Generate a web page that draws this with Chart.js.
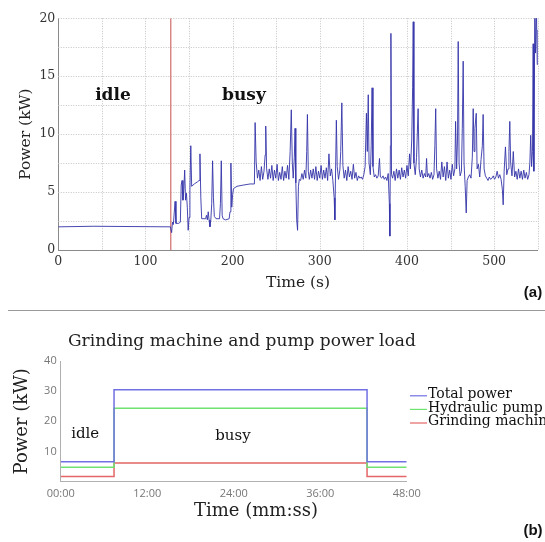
<!DOCTYPE html>
<html><head><meta charset="utf-8">
<script src="https://cdn.jsdelivr.net/npm/chart.js@4.4.1/dist/chart.umd.min.js"></script>
<style>
html,body{margin:0;padding:0;background:#fff;width:545px;height:542px;overflow:hidden;}
#ca{position:absolute;left:0;top:0;}
#cb{position:absolute;left:0;top:312px;}
#sep{position:absolute;left:8px;top:310px;width:537px;height:0;border-top:1px solid #9a9a9a;}
</style></head><body>
<canvas id="ca" width="545" height="305"></canvas>
<div id="sep"></div>
<canvas id="cb" width="545" height="230"></canvas>
<script>
// ---------- Chart (a): measured power vs time ----------
const timeS = [
 0, 40, 128.5, 129.2, 130, 131, 132, 133, 134, 135,
 138, 140, 141, 142, 143, 144, 145, 146, 147, 148,
 149, 150, 151, 152, 153, 156, 160, 161.5, 162.5, 163.5,
 164.5, 169, 170, 171, 172, 173, 174, 175, 176, 177,
 178, 179, 181, 185, 186, 187, 188, 189, 192, 196,
 197, 198, 199, 200, 201, 205, 212, 220, 225,
 225.8, 227, 228.5, 230, 231.5, 233, 234.5, 236, 237.3, 238,
 239, 240.5, 242, 243.5, 245, 246.5, 248, 249.5, 251, 252.5,
 254, 255.5, 257, 258.5, 260, 261.5, 263, 264.5, 266, 267.3,
 268.5, 269.5, 270.8, 271.6, 272.5, 273.5, 274.5, 275.5, 276.5, 278,
 279.5, 281, 282.5, 284, 285, 285.8, 286.8, 288, 289.5, 291,
 292.5, 294, 295.5, 297, 298.5, 300, 301.5, 303, 304.5, 306,
 307.5, 309, 310.5, 312, 313.5, 315, 316.5, 317.3, 318, 319,
 320, 321.5, 323, 324, 325.3, 326.5, 328, 329.5, 331, 332.5,
 334, 335.5, 337, 338.5, 340, 341.5, 343, 344.5, 346, 347.5,
 349, 350.5, 352, 353.5, 354.5, 355.6, 356.5, 358, 359, 360,
 361, 362.5, 364, 365.5, 367, 368.5, 369.5, 371, 372.5, 374,
 375.5, 377, 378.5, 379.8, 380.4, 381, 381.6, 382.3, 383.5, 385,
 386.5, 388, 389.5, 391, 392.5, 394, 395.5, 397, 398.5, 400,
 401.5, 403, 404, 405.5, 406.5, 407.2, 408, 409.5, 411, 412.8,
 414, 415.5, 417, 418.5, 420, 421.5, 422.5, 423.5, 425, 426.5,
 428, 429.5, 431, 432, 433, 434, 435.5, 437, 438.5, 440,
 441.5, 443, 444.5, 446, 447.5, 449, 450.5, 452, 453.5, 455,
 455.8, 457, 458, 458.8, 459.8, 461, 462.5, 463.5, 464.5, 465.5,
 466.8, 468, 469, 470.5, 472, 473.5, 475, 476, 477, 478,
 479.5, 480.5, 482, 483.5, 485, 486.5, 487.4, 488.5, 490, 491.5,
 493, 494.5, 496, 497.5, 499, 500.5, 502, 503.5, 505, 506.5,
 508, 509.5, 510.4, 511.5, 513, 514.5, 516, 517, 518, 519,
 520.5, 522, 523.5, 525, 526.5, 528, 529.5, 531, 532.5, 534,
 535.5, 537, 538.5, 540, 541, 542, 543, 544, 544.8, 545.6,
 546.7, 547.5, 548.6, 549.5, 550
];
const powerKW = [
 2.0, 2.05, 2.0, 2.0, 1.5, 2.4, 2.2, 3.2, 4.2, 2.3,
 2.3, 2.4, 5.6, 6.0, 4.3, 5.2, 6.9, 4.3, 4.9, 3.7,
 1.7, 2.8, 5.2, 9.0, 5.5, 5.7, 5.9, 6.0, 8.3, 4.5,
 2.7, 2.7, 3.0, 2.6, 3.3, 2.6, 2.0, 2.6, 4.0, 7.7,
 4.5, 2.9, 2.7, 2.7, 4.0, 7.7, 3.0, 2.7, 2.6, 2.7,
 3.3, 7.5, 3.7, 4.8, 5.3, 5.5, 5.6, 5.7, 5.7,
 11.0, 7.6, 6.2, 6.9, 6.0, 7.2, 6.1, 6.8, 8.2, 10.7,
 7.0, 6.1, 7.0, 6.2, 7.3, 6.0, 6.9, 6.2, 7.4, 6.0,
 6.7, 6.1, 7.2, 6.0, 6.8, 6.2, 7.3, 6.1, 8.5, 12.1,
 7.5, 6.2, 8.0, 10.5, 5.8, 2.6, 1.7, 5.5, 6.1, 6.0,
 6.6, 6.1, 6.9, 6.2, 8.5, 11.7, 6.8, 6.1, 6.9, 6.2,
 7.0, 6.1, 7.2, 6.0, 6.8, 6.2, 7.3, 6.1, 6.9, 6.2,
 7.1, 6.0, 8.3, 6.4, 7.0, 6.0, 4.5, 2.6, 6.3, 11.2,
 7.2, 6.1, 6.9, 8.5, 12.7, 7.3, 6.2, 6.9, 6.0, 7.2,
 6.3, 6.8, 6.1, 7.4, 6.2, 6.7, 6.0, 6.4, 6.2, 6.3,
 6.1, 6.5, 7.2, 11.8, 8.5, 13.4, 7.5, 6.5, 9.0, 14.0,
 7.2, 6.3, 6.5, 6.2, 6.4, 7.9, 6.3, 6.2, 6.4, 6.1,
 6.3, 6.0, 6.6, 4.0, 1.2, 9.0, 18.7, 6.5, 6.2, 6.8,
 6.0, 7.0, 6.2, 6.9, 6.1, 7.1, 6.3, 6.9, 6.2, 7.3,
 6.4, 8.3, 7.0, 9.5, 14.0, 19.7, 7.5, 6.5, 8.0, 12.2,
 7.0, 6.3, 6.9, 6.2, 6.6, 6.3, 7.9, 6.3, 6.6, 6.2,
 6.7, 6.1, 6.5, 9.0, 12.2, 7.0, 6.2, 6.8, 6.1, 7.6,
 6.3, 7.2, 6.0, 7.6, 6.2, 6.9, 6.1, 7.4, 6.4, 7.0,
 11.1, 7.0, 9.5, 18.0, 7.5, 6.4, 6.8, 10.5, 16.3, 7.5,
 5.5, 3.2, 6.0, 6.3, 6.5, 6.2, 8.0, 12.2, 8.5, 10.5,
 11.8, 7.0, 7.4, 6.3, 7.8, 9.0, 11.7, 7.0, 6.4, 6.2,
 6.0, 6.3, 6.1, 6.2, 6.4, 6.1, 6.3, 6.8, 6.2, 6.5,
 6.1, 5.2, 3.9, 6.8, 8.9, 6.5, 7.0, 8.5, 11.1, 7.5,
 6.4, 8.5, 6.3, 6.8, 6.1, 7.0, 6.2, 6.8, 6.1, 6.9,
 6.2, 6.7, 6.1, 6.5, 7.5, 9.9, 7.2, 8.5, 17.8, 6.8,
 21, 17, 21, 16, 19
];
const idleBusyBoundaryS = 129;
const xTickLabelsA = [0, 100, 200, 300, 400, 500];
const yTickLabelsA = [0, 5, 10, 15, 20];

// ---------- Chart (b): grinding machine and pump power load ----------
const minutesB = [0, 7.4, 42.5, 48];
const totalPower = [6.6, 30.5, 6.6, 6.6];
const hydraulicPump = [4.8, 24.3, 4.8, 4.8];
const grindingMachine = [1.7, 6.2, 1.7, 1.7];
const seriesNamesB = ['Total power', 'Hydraulic pump', 'Grinding machine'];
const xTickLabelsB = ['00:00', '12:00', '24:00', '36:00', '48:00'];
const yTickLabelsB = [10, 20, 30, 40];

// ---------- plugins ----------
const textPlugin = {
  id: 'texts',
  afterDraw(chart, args, opts) {
    const ctx = chart.ctx;
    const xs = chart.scales.x, ys = chart.scales.y;
    (opts.items || []).forEach(it => {
      ctx.save();
      ctx.font = it.font;
      ctx.fillStyle = it.color || '#111';
      ctx.textAlign = it.align || 'center';
      ctx.textBaseline = 'middle';
      const px = it.data ? xs.getPixelForValue(it.x) : it.x;
      const py = it.data ? ys.getPixelForValue(it.y) : it.y;
      ctx.fillText(it.text, px, py);
      ctx.restore();
    });
  }
};
const dottedGrid = {
  id: 'dottedGrid',
  beforeDatasetsDraw(chart, args, opts) {
    if (!opts.enabled) return;
    const {ctx, chartArea: a, scales: {x, y}} = chart;
    ctx.save();
    ctx.strokeStyle = opts.color; ctx.lineWidth = 1; ctx.setLineDash(opts.dash);
    x.ticks.forEach(t => {
      if (t.value === x.min) return;
      const px = Math.round(x.getPixelForValue(t.value)) + 0.5;
      ctx.beginPath(); ctx.moveTo(px, a.top); ctx.lineTo(px, a.bottom); ctx.stroke();
    });
    y.ticks.forEach(t => {
      if (t.value === y.min) return;
      const py = Math.round(y.getPixelForValue(t.value)) + 0.5;
      ctx.beginPath(); ctx.moveTo(a.left, py); ctx.lineTo(a.right, py); ctx.stroke();
    });
    ctx.restore();
  }
};
const sideLegend = {
  id: 'sideLegend',
  afterDraw(chart, args, opts) {
    if (!opts.enabled) return;
    const {ctx, chartArea: a} = chart;
    ctx.save();
    ctx.font = opts.font; ctx.textBaseline = 'middle'; ctx.textAlign = 'left';
    chart.data.datasets.forEach((ds, i) => {
      const y = a.top + opts.offsetY + i * opts.spacing;
      const x0 = a.right + opts.offsetX;
      ctx.strokeStyle = ds.borderColor; ctx.lineWidth = 1.2;
      ctx.beginPath(); ctx.moveTo(x0, y + 1.5); ctx.lineTo(x0 + opts.lineLen, y + 1.5); ctx.stroke();
      ctx.fillStyle = opts.color;
      ctx.fillText(ds.label, x0 + opts.lineLen + 1, y);
    });
    ctx.restore();
  }
};

const serif = '"DejaVu Serif", serif';

// ---------- Chart (a) ----------
new Chart(document.getElementById('ca'), {
  type: 'line',
  data: {
    datasets: [
      {
        label: 'Power',
        data: timeS.map((t, i) => ({x: t, y: powerKW[i]})),
        borderColor: 'rgba(52,52,170,0.9)', borderWidth: 1,
        pointRadius: 0, tension: 0, fill: false
      },
      {
        label: 'boundary',
        data: [{x: idleBusyBoundaryS, y: 0}, {x: idleBusyBoundaryS, y: 20}],
        borderColor: 'rgb(214,128,128)', borderWidth: 1.4,
        pointRadius: 0, fill: false
      }
    ]
  },
  options: {
    responsive: false, animation: false, devicePixelRatio: 1,
    layout: {padding: {left: 0, right: 7.3, top: 18.3, bottom: 0}},
    scales: {
      x: {
        type: 'linear', min: 0, max: 550,
        afterFit: s => { s.height = 55; },
        grid: {display: false, drawTicks: false},
        border: {display: true, color: '#8a8a8a', width: 1},
        ticks: {
          stepSize: 50, autoSkip: false, maxRotation: 0, padding: 4,
          font: {family: serif, size: 12.5}, color: '#333',
          callback: v => xTickLabelsA.includes(v) ? String(v) : ''
        },
        title: {display: true, text: 'Time (s)', font: {family: serif, size: 15.5}, color: '#222',
                padding: {top: 0, bottom: 12.7}}
      },
      y: {
        min: 0, max: 20,
        afterFit: s => { s.width = 58.3; },
        grid: {display: false, drawTicks: false},
        border: {display: true, color: '#8a8a8a', width: 1},
        ticks: {
          stepSize: 2.5, autoSkip: false, padding: 3,
          font: {family: serif, size: 12.5}, color: '#333',
          callback: v => yTickLabelsA.includes(v) ? String(v) : ''
        },
        title: {display: true, text: 'Power (kW)', font: {family: serif, size: 15.5}, color: '#222',
                padding: {top: 16.2, bottom: 0}}
      }
    },
    plugins: {
      legend: {display: false}, tooltip: {enabled: false},
      dottedGrid: {enabled: true, color: '#c4c4c4', dash: [1, 1.5]},
      texts: {items: [
        {text: 'idle', data: true, x: 62.7, y: 13.3, font: 'bold 17px ' + serif},
        {text: 'busy', data: true, x: 213, y: 13.3, font: 'bold 17px ' + serif},
        {text: '(a)', x: 533, y: 293, font: 'bold 15px "Liberation Sans", Arial, sans-serif'}
      ]}
    }
  },
  plugins: [dottedGrid, textPlugin]
});

// ---------- Chart (b) ----------
const mk = (vals) => minutesB.map((m, i) => ({x: m, y: vals[i]}));
new Chart(document.getElementById('cb'), {
  type: 'line',
  data: {
    datasets: [
      {label: seriesNamesB[0], data: mk(totalPower), borderColor: 'rgb(112,112,228)', borderWidth: 1.5, stepped: 'before', pointRadius: 0, fill: false},
      {label: seriesNamesB[1], data: mk(hydraulicPump), borderColor: 'rgb(112,226,112)', borderWidth: 1.5, stepped: 'before', pointRadius: 0, fill: false},
      {label: seriesNamesB[2], data: mk(grindingMachine), borderColor: 'rgb(228,102,102)', borderWidth: 1.5, stepped: 'before', pointRadius: 0, fill: false}
    ]
  },
  options: {
    responsive: false, animation: false, devicePixelRatio: 1,
    layout: {padding: {left: 0, right: 138.3, top: 49, bottom: 0}},
    scales: {
      x: {
        type: 'linear', min: 0, max: 48,
        afterFit: s => { s.height = 60.3; },
        grid: {display: false, drawTicks: false},
        border: {display: true, color: '#b0b0b0', width: 1},
        ticks: {
          stepSize: 12, autoSkip: false, maxRotation: 0, padding: 6,
          font: {family: '"Open Sans", sans-serif', size: 11}, color: '#777',
          callback: v => xTickLabelsB[Math.round(v / 12)]
        }
      },
      y: {
        min: 0, max: 40,
        afterFit: s => { s.width = 60.7; },
        grid: {display: false, drawTicks: false},
        border: {display: true, color: '#b0b0b0', width: 1},
        ticks: {
          stepSize: 10, autoSkip: false, padding: 4,
          font: {family: '"Open Sans", sans-serif', size: 11}, color: '#777',
          callback: v => yTickLabelsB.includes(v) ? String(v) : ''
        },
        title: {display: true, text: 'Power (kW)', font: {family: serif, size: 18}, color: '#222',
                padding: {top: 11.7, bottom: 0}}
      }
    },
    plugins: {
      legend: {display: false}, tooltip: {enabled: false},
      sideLegend: {enabled: true, font: '14px ' + serif, color: '#111', offsetX: 3.3, offsetY: 33.3, spacing: 13.6, lineLen: 17},
      texts: {items: [
        {text: 'Grinding machine and pump power load', x: 68, y: 30, align: 'left', font: '17px ' + serif, color: '#222'},
        {text: 'Time (mm:ss)', x: 256, y: 199.7, font: '18px ' + serif, color: '#222'},
        {text: 'idle', data: true, x: 3.4, y: 15.8, font: '15px ' + serif},
        {text: 'busy', data: true, x: 23.9, y: 15.1, font: '15px ' + serif},
        {text: '(b)', x: 533, y: 219, font: 'bold 15px "Liberation Sans", Arial, sans-serif'}
      ]}
    }
  },
  plugins: [sideLegend, textPlugin]
});
</script>
</body></html>
